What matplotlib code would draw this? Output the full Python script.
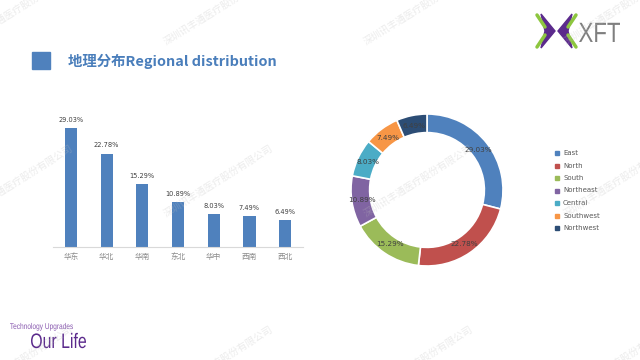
import matplotlib
matplotlib.use("Agg")
import matplotlib.pyplot as plt
from matplotlib.patches import Polygon, Rectangle, PathPatch
from matplotlib.textpath import TextPath
from matplotlib.font_manager import FontProperties
from matplotlib.transforms import Affine2D

plt.rcParams['font.family'] = ['Noto Sans CJK SC', 'DejaVu Sans']

# data
regions_cn = ["华东", "华北", "华南", "东北", "华中", "西南", "西北"]
regions_en = ["East", "North", "South", "Northeast", "Central", "Southwest", "Northwest"]
shares = [29.03, 22.78, 15.29, 10.89, 8.03, 7.49, 6.49]
colors = ["#4f81bd", "#c0504d", "#9bbb59", "#8064a2", "#4bacc6", "#f79646", "#2c4d75"]

W, H = 640, 360
fig = plt.figure(figsize=(6.4, 3.6), dpi=100)
fig.patch.set_facecolor("white")

# bar chart
ax = fig.add_axes([53 / W, 1 - 247 / H, 250 / W, 131 / H])
x = range(len(shares))
bars = ax.bar(x, shares, width=0.34, color="#4f81bd")
for b, v in zip(bars, shares):
    ax.annotate(f"{v:.2f}%", (b.get_x() + b.get_width() / 2, v), xytext=(0, 4),
                textcoords="offset points", ha="center", va="bottom",
                fontsize=4.8, color="#404040", family=["DejaVu Sans"])
ax.set_xlim(-0.5, len(shares) - 0.5)
ax.set_ylim(0, 32)
ax.set_xticks(list(x))
ax.set_xticklabels(regions_cn, fontsize=5.5, color="#8c8c8c")
ax.tick_params(axis="x", length=0, pad=4)
ax.set_yticks([])
for s in ["top", "right", "left"]:
    ax.spines[s].set_visible(False)
ax.spines["bottom"].set_color("#d9d9d9")
ax.spines["bottom"].set_linewidth(0.8)

# donut
r_px = 76
half = 80
pax = fig.add_axes([(427 - half) / W, 1 - (190 + half) / H, 2 * half / W, 2 * half / H])
wedges, texts, autotexts = pax.pie(
    shares, colors=colors, startangle=90, counterclock=False, radius=1,
    autopct=lambda p: f"{p:.2f}%", pctdistance=0.86,
    wedgeprops=dict(width=0.245, edgecolor="white", linewidth=1.2),
    textprops=dict(fontsize=5.2, color="#404040", family=["DejaVu Sans"]))
lim = half / r_px
pax.set_xlim(-lim, lim)
pax.set_ylim(-lim, lim)
pax.set_aspect("equal")
pax.axis("off")

# overlay for slide decorations (pixel coords, y down)
ov = fig.add_axes([0, 0, 1, 1], zorder=10)
ov.set_xlim(0, W)
ov.set_ylim(H, 0)
ov.axis("off")
ov.patch.set_visible(False)


def fitted_text(s, x0, base, cap, width, color, family="Liberation Sans"):
    # text squeezed to a given cap height and width, like the condensed slide font
    prop = FontProperties(family=family)
    tp = TextPath((0, 0), s, size=cap / 0.716, prop=prop)
    ext = tp.get_extents()
    sx = width / ext.width
    tr = Affine2D().translate(-ext.x0, 0).scale(sx, -1).translate(x0, base)
    ov.add_patch(PathPatch(tr.transform_path(tp), color=color, lw=0))


# legend
for i, (name, c) in enumerate(zip(regions_en, colors)):
    yy = 153 + i * 12.5
    ov.add_patch(Rectangle((555, yy - 2), 4, 4, color=c))
    ov.text(563, yy, name, fontsize=5, color="#595959", va="center", ha="left",
            family=["DejaVu Sans"])

# title
ov.add_patch(Rectangle((32, 52), 18, 17, color="#4f81bd"))
ov.text(68, 61, "地理分布Regional distribution", fontsize=10.4, fontweight="bold",
        color="#4a7ebb", va="center", ha="left")

# logo
purple = "#5b2a8c"
green = "#8dc63f"
ov.add_patch(Polygon([(541, 14), (555, 31), (541, 48), (545, 31)], closed=True, color=purple))
ov.add_patch(Polygon([(572, 14), (558, 31), (572, 48), (568, 31)], closed=True, color=purple))
ov.plot([537, 545], [15, 27], color=green, lw=2.5, solid_capstyle="round")
ov.plot([537, 545], [47, 35], color=green, lw=2.5, solid_capstyle="round")
ov.plot([576, 568], [15, 27], color=green, lw=2.5, solid_capstyle="round")
ov.plot([576, 568], [47, 35], color=green, lw=2.5, solid_capstyle="round")
fitted_text("XFT", 579, 42, 20, 41, "#7f7f7f")

# footer
fitted_text("Technology Upgrades", 10, 329, 6, 63, "#8a5bb0")
fitted_text("Our Life", 31, 348, 15, 55, "#5b2a8c")

# watermark
wm = "深圳讯丰通医疗股份有限公司"
for cy in [9, 181, 362]:
    for cx in [18, 218, 418, 618]:
        ov.text(cx, cy, wm, fontsize=7, color="#bfbfbf", alpha=0.3, rotation=32,
                ha="center", va="center", rotation_mode="anchor")

fig.savefig("out.png", dpi=100)
